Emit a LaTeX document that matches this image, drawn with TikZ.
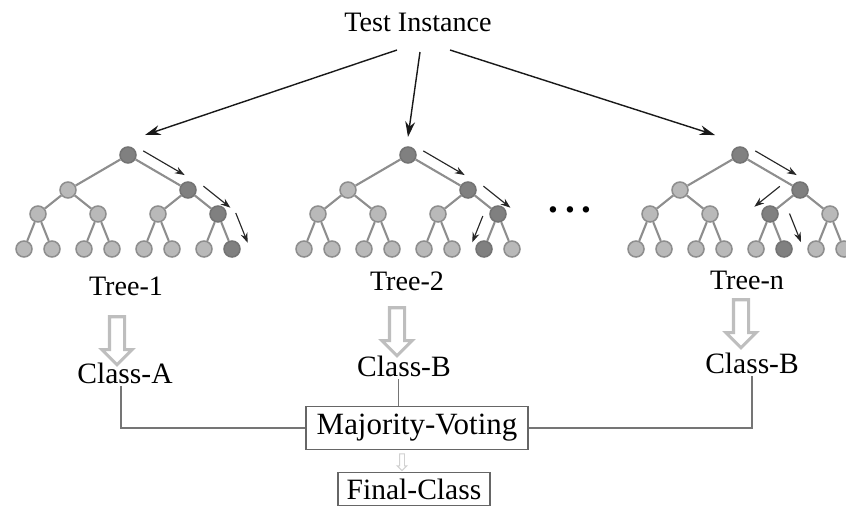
\documentclass[tikz,border=0pt]{standalone}
\usepackage{fontspec}
\setmainfont{Liberation Serif}
\usetikzlibrary{arrows.meta, calc, shapes.arrows}
\definecolor{leafcol}{HTML}{B9B9B9}
\definecolor{hitcol} {HTML}{808080}
\definecolor{edgecol}{HTML}{8E8E8E}
\definecolor{wirecol}{HTML}{757575}
\definecolor{hollcol}{HTML}{BEBEBE}
\tikzset{
  tnode/.style={circle, draw=edgecol, fill=leafcol, line width=1.1pt, minimum size=0.4cm, inner sep=0pt},
  hit/.style={fill=hitcol, draw=black!55},
  p1/.style={hit}, p11/.style={hit}, p111/.style={hit}, p1111/.style={hit},
  p2/.style={hit}, p21/.style={hit}, p211/.style={hit}, p2110/.style={hit},
  p3/.style={hit}, p31/.style={hit}, p310/.style={hit}, p3101/.style={hit},
  tedge/.style={draw=edgecol, line width=1.5pt},
  walk/.style={draw=black!85, line width=0.8pt, -{Stealth[length=7pt, width=5pt]}},
  feed/.style={draw=black!90, line width=1pt, -{Stealth[length=11pt, width=7pt]}},
  hollow/.style={single arrow, draw=hollcol, fill=white, line width=2.2pt, rotate=-90,
    inner sep=0.15cm, single arrow head extend=0.19cm, minimum height=1.2cm},
  tlabel/.style={inner sep=2pt},
  clabel/.style={inner sep=2pt, font=\fontsize{21}{24}\selectfont},
  vbox/.style={draw=black!60, line width=1.1pt, inner xsep=0.27cm, inner ysep=0.2cm, font=\fontsize{22}{26}\selectfont},
  wire/.style={draw=wirecol, line width=1.1pt},
  dotfont/.style={font=\fontsize{28}{28}\selectfont\bfseries},
}
\newcommand{\walk}[6]{\draw[walk] ($(#1)!#3!(#2) + (#1)!#6!#5:(#2) - (#1)$) -- ($(#1)!#4!(#2) + (#1)!#6!#5:(#2) - (#1)$);}

\begin{document}
\begin{tikzpicture}[x=0.025cm, y=-0.025cm, font=\fontsize{20}{24}\selectfont]
  \useasboundingbox (0,0) rectangle (846,508);
  \node (test) at (418,22) {Test Instance};

  \foreach \k/\rx in {1/128, 2/408, 3/740} {
    \node[tnode, p\k/.try] (t\k) at (\rx,155) {};
    \foreach \i in {0,1} {
      \node[tnode, p\k\i/.try] (t\k\i) at ({\rx+(2*\i-1)*60},190) {};
      \foreach \j in {0,1} {
        \node[tnode, p\k\i\j/.try] (t\k\i\j) at ({\rx+(2*\i-1)*60+(2*\j-1)*30},214) {};
        \foreach \l in {0,1}
          \node[tnode, p\k\i\j\l/.try] (t\k\i\j\l) at ({\rx+(2*\i-1)*60+(2*\j-1)*30+(2*\l-1)*14},249) {};
      }
    }
  }
  \foreach \k in {1,2,3}
    \foreach \i in {0,1} {
      \draw[tedge] (t\k) -- (t\k\i);
      \foreach \j in {0,1} {
        \draw[tedge] (t\k\i) -- (t\k\i\j);
        \foreach \l in {0,1}
          \draw[tedge] (t\k\i\j) -- (t\k\i\j\l);
      }
    }

  \walk{t1}{t11}{0.16}{0.85}{90}{8pt}
  \walk{t11}{t111}{0.25}{1.15}{90}{9pt}
  \walk{t111}{t1111}{0.15}{1.0}{90}{12pt}
  \walk{t2}{t21}{0.16}{0.85}{90}{8pt}
  \walk{t21}{t211}{0.25}{1.15}{90}{9pt}
  \walk{t211}{t2110}{0.2}{0.95}{-90}{9.5pt}
  \walk{t3}{t31}{0.16}{0.85}{90}{8pt}
  \walk{t31}{t310}{0.35}{1.2}{-90}{11pt}
  \walk{t310}{t3101}{0.18}{1.0}{90}{13pt}

  \draw[feed] ([shift={(-21,28)}]test.center) -- ([shift={(17,-20)}]t1.center);
  \draw[feed] ([shift={(2,30)}]test.center) -- ([shift={(0,-18)}]t2.center);
  \draw[feed] ([shift={(32,28)}]test.center) -- ([shift={(-25,-20)}]t3.center);

  \node[dotfont] (dots) at (570,210) {.\hspace{4.7pt}.\hspace{4.7pt}.};

  \node[tlabel] (n1) at (126,286) {Tree-1};
  \node[tlabel] (n2) at (407,281) {Tree-2};
  \node[tlabel] (n3) at (747,280) {Tree-n};
  \node[hollow] (h1) at (117,337) {};
  \node[hollow] (h2) at (397,328) {};
  \node[hollow] (h3) at (741,320) {};
  \node[clabel] (c1) at (125,373) {Class-A};
  \node[clabel] (c2) at (404,366) {Class-B};
  \node[clabel] (c3) at (752,363) {Class-B};

  \node[vbox] (vote) at (417,428) {Majority-Voting};
  \node[vbox, inner xsep=0.22cm, inner ysep=0.15cm, font=\fontsize{21}{24}\selectfont] (final) at (414,489) {Final-Class};
  \node[hollow, line width=0.7pt, inner sep=0.05cm, single arrow head extend=0.06cm,
        minimum height=0.42cm, draw=hollcol!70] (h0) at (402,461) {};

  \draw[wire] ([xshift=-3]c1.south) |- (vote.west);
  \draw[wire] ([xshift=-4]c2.south) -- ([xshift=-4]c2.south |- vote.north);
  \draw[wire] (c3.south) |- (vote.east);
\end{tikzpicture}
\end{document}
